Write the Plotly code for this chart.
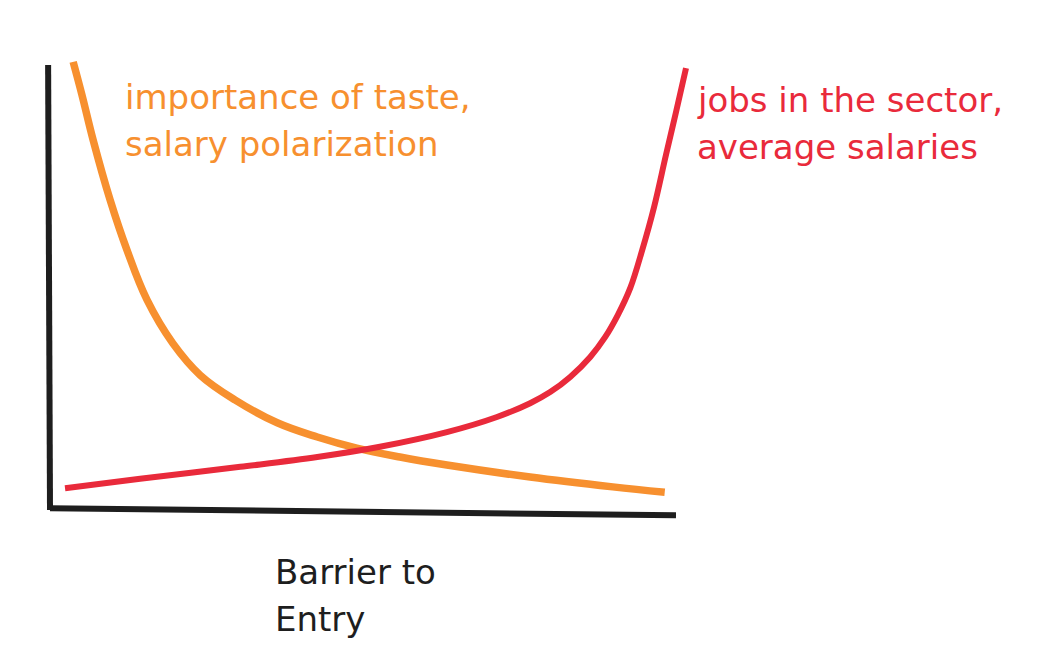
import plotly.graph_objects as go

# Data in abstract units: barrier to entry (x, 0-10) and level (y, 0-10)
taste_x = [0.37, 0.51, 0.69, 0.96, 1.23, 1.55, 1.96, 2.40, 2.96, 3.63, 4.27, 4.90, 5.59, 6.34, 7.67, 8.99, 9.82]
taste_y = [10.07, 9.33, 8.31, 6.97, 5.84, 4.72, 3.75, 3.03, 2.47, 1.96, 1.64, 1.39, 1.19, 1.01, 0.74, 0.52, 0.40]

jobs_x = [0.24, 1.44, 3.04, 4.27, 5.27, 6.34, 7.14, 7.67, 7.99, 8.31, 8.63, 8.87, 9.07, 9.27, 9.46, 9.65, 9.84, 10.00, 10.16]
jobs_y = [0.49, 0.70, 0.97, 1.19, 1.42, 1.75, 2.09, 2.40, 2.65, 2.99, 3.44, 3.89, 4.38, 4.99, 5.84, 6.81, 7.98, 8.94, 9.93]

taste_label = ["importance of taste,", "salary polarization"]
jobs_label = ["jobs in the sector,", "average salaries"]
axis_label = ["Barrier to", "Entry"]

ORANGE = "#f7902f"
RED = "#e92a3b"
INK = "#1e1e1e"
FONT = "DejaVu Sans"
FS = 34

W, H = 1058, 661
OFF = 8  # page body margin offset compensation
# pixel placement of the axis frame
x0px, x10px = 50 - OFF, 676 - OFF
y0px, y10px = 510 - OFF, 65 - OFF
sx = (x10px - x0px) / 10
sy = (y0px - y10px) / 10
xr = [-x0px / sx, (W - x0px) / sx]
yr = [-(H - y0px) / sy, y0px / sy]

fig = go.Figure()
fig.add_trace(go.Scatter(x=taste_x, y=taste_y, mode="lines",
                         line=dict(color=ORANGE, width=7.5, shape="spline", smoothing=1.1),
                         hoverinfo="skip", showlegend=False))
fig.add_trace(go.Scatter(x=jobs_x, y=jobs_y, mode="lines",
                         line=dict(color=RED, width=6, shape="spline", smoothing=1.0),
                         hoverinfo="skip", showlegend=False))

# hand-drawn axes
fig.add_shape(type="line", x0=-0.03, y0=10.0, x1=0.0, y1=0.0,
              line=dict(color=INK, width=6), layer="below")
fig.add_shape(type="line", x0=0.0, y0=0.04, x1=10.0, y1=-0.12,
              line=dict(color=INK, width=6), layer="below")

def label(text, px, py, color):
    fig.add_annotation(text=text, xref="paper", yref="paper",
                       x=(px - OFF) / W, y=1 - (py - OFF) / H,
                       xanchor="left", yanchor="middle",
                       showarrow=False, font=dict(family=FONT, size=FS, color=color))

label(taste_label[0], 123, 97, ORANGE)
label(taste_label[1], 123, 144, ORANGE)
label(jobs_label[0], 695, 100, RED)
label(jobs_label[1], 695, 147, RED)
label(axis_label[0], 273, 572, INK)
label(axis_label[1], 273, 619, INK)

fig.update_layout(
    width=W, height=H,
    margin=dict(l=0, r=0, t=0, b=0),
    paper_bgcolor="white", plot_bgcolor="white",
    xaxis=dict(range=xr, visible=False, fixedrange=True),
    yaxis=dict(range=yr, visible=False, fixedrange=True),
    showlegend=False,
)

fig.write_html("out.html")
